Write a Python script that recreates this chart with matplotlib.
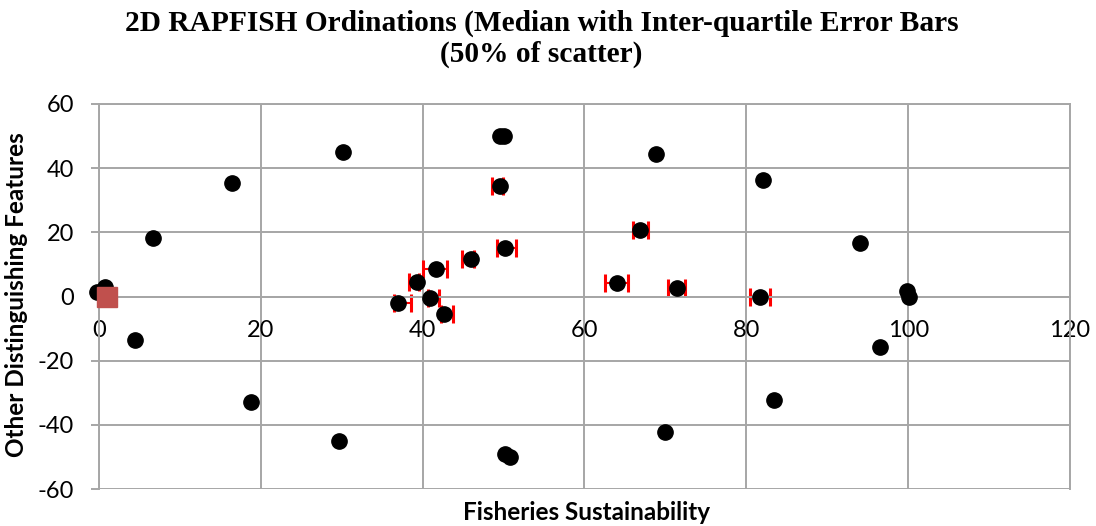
import matplotlib
matplotlib.use("Agg")
import matplotlib.pyplot as plt

plt.rcParams['axes.unicode_minus'] = False

# fisheries medians with inter-quartile range along x
med_x = [37.0, 39.3, 40.9, 42.6, 41.6, 46.0, 49.6, 50.2, 64.0, 66.8, 71.4, 81.7]
med_y = [-2.1, 4.5, -0.5, -5.5, 8.6, 11.6, 34.3, 15.2, 4.2, 20.8, 2.6, 0.0]
err_lo = [0.5, 1.0, 0.3, 0.3, 1.5, 1.1, 1.0, 1.0, 1.5, 0.8, 1.1, 1.2]
err_hi = [1.5, 0.3, 1.1, 1.2, 1.4, 0.3, 0.3, 1.3, 1.4, 1.0, 1.0, 1.2]

# anchor points
anc_x = [-0.2, 0.7, 4.4, 6.7, 16.4, 18.8, 29.7, 30.1, 49.6, 50.0, 50.2, 50.8,
         68.8, 70.0, 82.1, 83.4, 94.1, 96.5, 99.8, 100.1]
anc_y = [1.5, 3.0, -13.7, 18.1, 35.4, -32.9, -44.9, 45.0, 50.0, 50.0, -49.0, -50.0,
         44.4, -42.3, 36.3, -32.2, 16.8, -15.8, 1.6, 0.0]

ref_x = [1.0]
ref_y = [0.0]

xticks = [0, 20, 40, 60, 80, 100, 120]
yticks = [-60, -40, -20, 0, 20, 40, 60]

grey = '#a6a6a6'

fig = plt.figure(figsize=(10.96, 5.26), dpi=100)
ax = fig.add_axes([0.0903, 0.0703, 0.886, 0.732])

ax.set_xlim(0, 120)
ax.set_ylim(-60, 60)
ax.set_xticks(xticks)
ax.set_yticks(yticks)
ax.grid(True, color=grey, linewidth=1.4)
ax.set_axisbelow(True)

for s in ax.spines.values():
    s.set_color(grey)
    s.set_linewidth(1.4)
ax.spines['bottom'].set_position(('data', 0))

ax.tick_params(axis='x', length=0, pad=17, labelsize=17)
ax.tick_params(axis='y', length=6, width=1.4, color=grey, pad=12, labelsize=17)
for lab in ax.get_xticklabels() + ax.get_yticklabels():
    lab.set_family('Lato')

ax.errorbar(med_x, med_y, xerr=[err_lo, err_hi], fmt='none', ecolor='#ff0000',
            elinewidth=1.5, capsize=6.5, capthick=2.2, zorder=2)
ax.plot(anc_x + med_x, anc_y + med_y, 'o', color='black', markersize=11,
        linestyle='none', zorder=3, clip_on=False)
ax.plot(ref_x, ref_y, 's', color='#c0504d', markersize=14, zorder=4, clip_on=False)

fig.text(0.494, 0.926, '2D RAPFISH Ordinations (Median with Inter-quartile Error Bars\n(50% of scatter)',
         ha='center', va='center', fontsize=21.2, fontweight='bold',
         family='Liberation Serif', linespacing=1.15)
fig.text(0.535, 0.025, 'Fisheries Sustainability', ha='center', va='center',
         fontsize=17.5, fontweight='bold', family='Lato')
fig.text(0.015, 0.44, 'Other Distinguishing Features', ha='center', va='center',
         rotation=90, fontsize=17.5, fontweight='bold', family='Lato')

fig.savefig('out.png', dpi=100)
